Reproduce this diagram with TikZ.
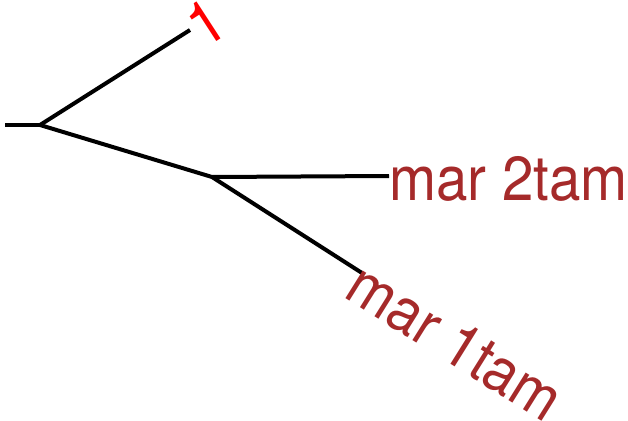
\documentclass[tikz,border=0pt]{standalone}
\usepackage{fontspec}
\setmainfont{TeX Gyre Heros}
\definecolor{labbrown}{HTML}{A52A2A}
\definecolor{labred}{HTML}{FF0000}
\newcommand{\labtext}[1]{\scalebox{1}[1.1]{#1}}
\tikzset{
  branch/.style={line width=4pt, line join=round},
  leaflab/.style={inner sep=0pt, anchor=west, font=\fontsize{56.5}{60}\selectfont},
}
\begin{document}
\begin{tikzpicture}[x=1pt,y=-1pt]
\useasboundingbox (0,0) rectangle (628,420);
\coordinate (r0) at (5,125);
\coordinate (a) at (40,125);
\coordinate (t1) at (190,30);
\coordinate (b) at (212,177);
\coordinate (t2) at (389,176);
\coordinate (t3) at (362,273);
\draw[branch] (r0) -- (a);
\draw[branch] (a) -- (t1);
\draw[branch] (a) -- (b);
\draw[branch] (b) -- (t2);
\draw[branch] (b) -- (t3);
\node[leaflab, text=labred, rotate=33, yshift=-2pt, xshift=1pt] (l1) at (t1) {\labtext{1}};
\node[leaflab, text=labbrown, yshift=-3pt] (l2) at (t2) {\labtext{mar 2tam}};
\node[leaflab, text=labbrown, rotate=-32, yshift=-9pt, xshift=-4pt] (l3) at (t3) {\labtext{mar 1tam}};
\end{tikzpicture}
\end{document}
